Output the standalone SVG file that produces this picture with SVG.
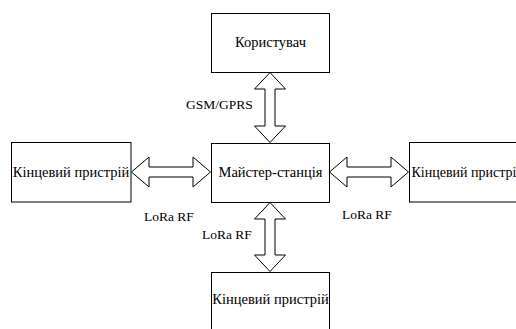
<svg xmlns="http://www.w3.org/2000/svg" width="516" height="329" viewBox="0 0 516 329">
<style>
.box{fill:#fff;stroke:#000;stroke-width:1}
text{font-family:"Liberation Serif","Times New Roman",serif;font-size:13.5px;fill:#000}
.n{font-size:14.5px}
.c{text-anchor:middle}
.arr{fill:#fff;stroke:#000;stroke-width:1;stroke-linejoin:miter}
</style>
<rect width="516" height="329" fill="#fff"/>
<g id="connectors">
<path class="arr" d="M270,72.5 L285.5,89 L275,89 L275,126 L285.5,126 L270,142.5 L254.5,126 L265,126 L265,89 L254.5,89 Z"/>
<path class="arr" d="M270,202.5 L285.5,219 L275,219 L275,255 L285.5,255 L270,271.5 L254.5,255 L265,255 L265,219 L254.5,219 Z"/>
<path class="arr" d="M131.5,172 L149,157 L149,167 L193,167 L193,157 L210.5,172 L193,187 L193,177 L149,177 L149,187 Z"/>
<path class="arr" d="M329.5,172 L347,157 L347,167 L391,167 L391,157 L408.5,172 L391,187 L391,177 L347,177 L347,187 Z"/>
<text x="186" y="109">GSM/GPRS</text>
<text x="144" y="221">LoRa RF</text>
<text x="342" y="219">LoRa RF</text>
<text x="202" y="239">LoRa RF</text>
</g>
<g id="user">
<rect class="box" x="211.5" y="13.5" width="118" height="59"/>
<text class="n c" x="270.5" y="47">Користувач</text>
</g>
<g id="master">
<rect class="box" x="211.5" y="143.5" width="118" height="59"/>
<text class="n c" x="270.5" y="177">Майстер-станція</text>
</g>
<g id="device-left">
<rect class="box" x="11.5" y="142.5" width="119.5" height="59.5"/>
<text class="n c" x="71" y="177">Кінцевий пристрій</text>
</g>
<g id="device-right">
<rect class="box" x="409.5" y="142.5" width="120" height="59.5"/>
<text x="411.5" y="177" style="font-size:14px">Кінцевий пристрій</text>
</g>
<g id="device-bottom">
<rect class="box" x="211.5" y="272.5" width="118" height="60"/>
<text class="n c" x="270.5" y="304">Кінцевий пристрій</text>
</g>
</svg>
